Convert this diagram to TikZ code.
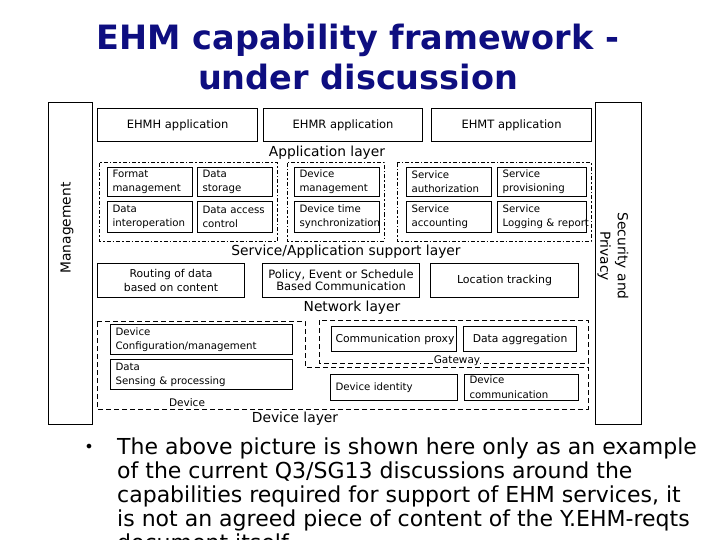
\documentclass[tikz,border=0pt]{standalone}
\usepackage{fontspec}
\setmainfont{DejaVu Sans}
\usetikzlibrary{positioning}

\definecolor{titlenavy}{RGB}{14,14,128}

\tikzset{
  capbox/.style={draw, line width=1.1pt, anchor=north west, align=left,
    inner xsep=5pt, inner ysep=0pt, font=\fontsize{10.2}{14}\selectfont,
    execute at begin node={\hyphenpenalty=10000\hfuzz=50pt}},
  appbox/.style={draw, line width=1.1pt, anchor=north west, inner sep=0pt,
    align=center, font=\fontsize{11.5}{14}\selectfont},
  layerlabel/.style={inner sep=0pt, font=\fontsize{13.8}{16}\selectfont},
  sidebox/.style={draw, line width=1.1pt, anchor=north west, inner sep=0pt},
  dashdotline/.style={line width=1pt, dash pattern=on 4pt off 2pt on 1.5pt off 2pt},
  dashline/.style={line width=1pt, dash pattern=on 5pt off 3pt},
}

\begin{document}
\begin{tikzpicture}[x=1pt, y=-1pt]
    \useasboundingbox[fill=white] (0,0) rectangle (720,540);

    % Titulo
    \node[titlenavy, align=center, font=\fontsize{33.5}{40}\bfseries\selectfont]
        (title) at (358,57) {EHM capability framework -\\under discussion};

    % Caixas laterais
    \node[sidebox, minimum width=44pt, minimum height=322pt] (mgmt) at (48,102) {};
    \node[rotate=90, inner sep=0pt, font=\fontsize{13.8}{16}\selectfont] (mgmtlabel) at (67,228) {Management};
    \node[sidebox, minimum width=46pt, minimum height=322pt] (secpriv) at (595,102) {};
    \node[rotate=-90, align=center, inner sep=0pt, font=\fontsize{13.8}{17.5}\selectfont]
        (seclabel) at (613,256) {Security and\\Privacy};

    % Camada de aplicacao
    \node[appbox, minimum width=160pt, minimum height=33pt] (ehmh) at (97,108) {EHMH application};
    \node[appbox, minimum width=159pt, minimum height=33pt] (ehmr) at (263,108) {EHMR application};
    \node[appbox, minimum width=160pt, minimum height=33pt] (ehmt) at (431,108) {EHMT application};
    \node[layerlabel] (applayer) at (327,153) {Application layer};

    % Camada de suporte (grupos tracejados)
    \draw[dashdotline] (99,163) rectangle (277,241);
    \draw[dashdotline] (287,163) rectangle (384,241);
    \draw[dashdotline] (397,163) rectangle (591,241);

    \node[capbox, text width=75pt, minimum height=29pt] (fmt) at (107,167) {Format\\management};
    \node[capbox, text width=65pt, minimum height=29pt] (stor) at (197,167) {Data\\storage};
    \node[capbox, text width=75pt, minimum height=31pt] (interop) at (107,201) {Data\\interoperation};
    \node[capbox, text width=65pt, minimum height=31pt] (access) at (197,201) {Data~access\\control};

    \node[capbox, text width=75pt, minimum height=29pt] (devmgmt) at (294,167) {Device\\management};
    \node[capbox, text width=75pt, minimum height=31pt] (devtime) at (294,201) {Device~time\\synchronization};

    \node[capbox, text width=75pt, minimum height=29pt] (authz) at (406,167) {Service\\authorization};
    \node[capbox, text width=79pt, minimum height=29pt] (prov) at (497,167) {Service\\provisioning};
    \node[capbox, text width=75pt, minimum height=31pt] (acct) at (406,201) {Service\\accounting};
    \node[capbox, text width=79pt, minimum height=31pt] (logrep) at (497,201) {Service\\Logging~\&~report};
    \node[layerlabel] (suplayer) at (346,252) {Service/Application support layer};

    % Camada de rede
    \node[appbox, minimum width=147pt, minimum height=34pt, font=\fontsize{10.8}{14}\selectfont]
        (routing) at (97,263) {Routing of data\\based on content};
    \node[appbox, minimum width=157pt, minimum height=34pt, font=\fontsize{11.5}{10.5}\selectfont]
        (policy) at (262,263) {Policy, Event or Schedule\\Based Communication};
    \node[appbox, minimum width=148pt, minimum height=34pt, font=\fontsize{11}{14}\selectfont]
        (loctrack) at (430,263) {Location tracking};
    \node[layerlabel] (netlayer) at (352,308) {Network layer};

    % Camada de dispositivo
    \draw[dashline] (97,321) -- (305,321) -- (305,367) -- (588,367) -- (588,409) -- (97,409) -- cycle;
    \draw[dashline] (319,320) rectangle (588,363);
    \node[inner sep=0pt, fill=white, font=\fontsize{10.5}{12}\selectfont] (gwlabel) at (457,361) {Gateway};
    \node[inner sep=0pt, fill=white, font=\fontsize{10.5}{12}\selectfont] (devlabel) at (187,403) {Device};

    \node[capbox, text width=172pt, minimum height=30pt, inner xsep=5pt]
        (devcfg) at (110,324) {Device\\Configuration/management};
    \node[capbox, text width=172pt, minimum height=30pt, inner xsep=5pt]
        (sensing) at (110,359) {Data\\Sensing~\&~processing};
    \node[capbox, text width=117pt, minimum height=25pt, inner xsep=4pt, font=\fontsize{10.8}{14}\selectfont]
        (commproxy) at (331,326) {Communication~proxy};
    \node[appbox, minimum width=113pt, minimum height=25pt, font=\fontsize{10.8}{14}\selectfont]
        (dataagg) at (463,326) {Data aggregation};
    \node[capbox, text width=117pt, minimum height=26pt, inner xsep=5pt]
        (devid) at (330,374) {Device~identity};
    \node[capbox, text width=104pt, minimum height=26pt, inner xsep=5pt, font=\fontsize{10.2}{15}\selectfont]
        (devcomm) at (464,374) {Device\\communication};
    \node[layerlabel] (devlayer) at (295,419) {Device layer};

    % Texto de rodape
    \node[inner sep=0pt, font=\fontsize{16}{18}\selectfont] (bullet) at (89,448) {•};
    \node[anchor=north west, align=left, inner sep=0pt, font=\fontsize{22}{24}\selectfont]
        (note) at (117,438) {The above picture is shown here only as an example\\
        of the current Q3/SG13 discussions around the\\
        capabilities required for support of EHM services, it\\
        is not an agreed piece of content of the Y.EHM-reqts\\
        document itself.};
\end{tikzpicture}
\end{document}
